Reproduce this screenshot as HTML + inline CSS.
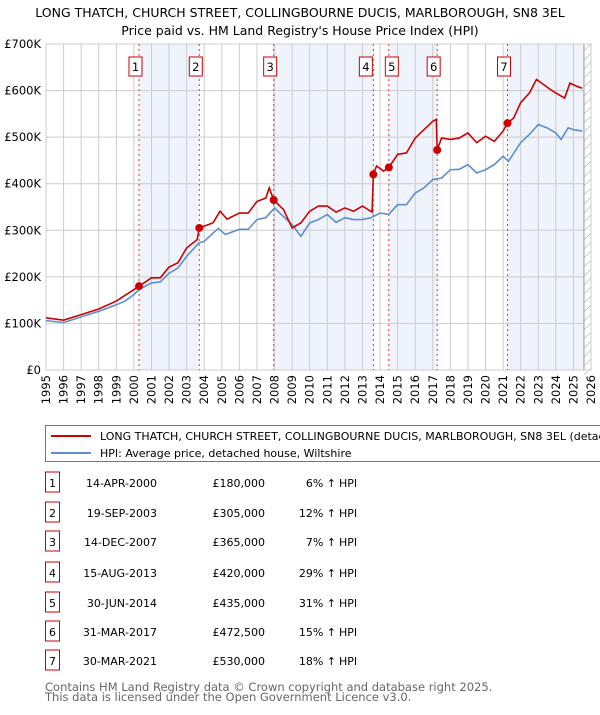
<!DOCTYPE html>
<html><head><meta charset="utf-8"><style>
body{margin:0;background:#fff;font-family:"Liberation Sans","DejaVu Sans",sans-serif}
svg text{font-family:"DejaVu Sans","Liberation Sans",sans-serif}
</style></head><body>
<svg id="s" width="600" height="710" xmlns="http://www.w3.org/2000/svg">
<text x="300" y="17" text-anchor="middle" font-size="12.5" fill="#000">LONG THATCH, CHURCH STREET, COLLINGBOURNE DUCIS, MARLBOROUGH, SN8 3EL</text>
<text x="300" y="35" text-anchor="middle" font-size="12.5" fill="#000">Price paid vs. HM Land Registry's House Price Index (HPI)</text>
<g id="plot"></g>
<g>
<rect x="45.5" y="425.5" width="560" height="36" fill="#fff" stroke="#777"/>
<line x1="51" y1="436" x2="91" y2="436" stroke="#cc0000" stroke-width="2"/>
<text x="100" y="440" font-size="11">LONG THATCH, CHURCH STREET, COLLINGBOURNE DUCIS, MARLBOROUGH, SN8 3EL (detached house)</text>
<line x1="51" y1="453" x2="91" y2="453" stroke="#5b8fd0" stroke-width="2"/>
<text x="100" y="457" font-size="11">HPI: Average price, detached house, Wiltshire</text>
</g>
<g id="tbl"></g>
<text x="45" y="691" font-size="11.5" fill="#666">Contains HM Land Registry data © Crown copyright and database right 2025.</text>
<text x="45" y="701" font-size="11.5" fill="#666">This data is licensed under the Open Government Licence v3.0.</text>
</svg>
<script>
const years=[1995,1996,1996.5,1997,1998,1999,1999.5,2000,2000.3,2001,2001.5,2002,2002.5,2003,2003.7,2004,2004.5,2004.8,2005.2,2006,2006.5,2007,2007.5,2008,2008.3,2009,2009.5,2010,2010.5,2011,2011.5,2012,2012.5,2013,2013.5,2014,2014.5,2015,2015.5,2016,2016.5,2017,2017.5,2018,2018.5,2019,2019.5,2020,2020.5,2021,2021.3,2022,2022.5,2023,2023.5,2024,2024.3,2024.7,2025,2025.5];
const hpi=[106,102,108,114,126,140,148,162,173,187,189,208,219,244,273,276,294,304,291,302,302,323,327,348,337,312,287,316,323,334,317,327,323,323,327,337,334,355,355,380,391,409,412,430,431,441,423,430,441,459,448,488,506,527,520,509,495,520,516,513];
const redYears=[1995,1996,1997,1998,1999,2000.3,2001,2001.5,2002,2002.5,2003,2003.6,2003.72,2004.5,2004.9,2005.3,2006,2006.5,2007,2007.5,2007.7,2007.95,2008.5,2009,2009.5,2010,2010.5,2011,2011.5,2012,2012.5,2013,2013.55,2013.62,2013.8,2014.2,2014.5,2015,2015.5,2016,2016.5,2017,2017.2,2017.25,2017.5,2018,2018.5,2019,2019.5,2020,2020.5,2021,2021.25,2021.6,2022,2022.5,2022.9,2023.3,2023.7,2024,2024.5,2024.8,2025.2,2025.5];
const red=[112,107,119,131,148,180,198,198,221,230,262,280,305,316,341,324,337,337,362,369,391,365,345,305,316,341,352,352,339,348,341,352,339,420,438,427,435,463,466,498,516,534,538,472.5,498,495,498,509,488,502,491,513,530,541,574,595,624,613,602,595,584,616,609,605];
const saleYears=[2000.29,2003.72,2007.95,2013.62,2014.5,2017.25,2021.25];
const salePrices=[180,305,365,420,435,472.5,530];
const saleDates=["14-APR-2000","19-SEP-2003","14-DEC-2007","15-AUG-2013","30-JUN-2014","31-MAR-2017","30-MAR-2021"];
const salePriceText=["£180,000","£305,000","£365,000","£420,000","£435,000","£472,500","£530,000"];
const salePct=["6%","12%","7%","29%","31%","15%","18%"];
const yTicks=[0,100,200,300,400,500,600,700];
const yTickLabels=["£0","£100K","£200K","£300K","£400K","£500K","£600K","£700K"];

const NS="http://www.w3.org/2000/svg";
const X0=46,X1=591,Y0=370,Y1=44;
const xs=y=>X0+(y-1995)*(X1-X0)/31;
const ys=v=>Y0-v*(Y0-Y1)/700;
function mk(p,t,a){const e=document.createElementNS(NS,t);for(const k in a)e.setAttribute(k,a[k]);p.appendChild(e);return e;}
const plot=document.getElementById('plot');
// shaded bands
const bands=[[0,1],[2,3],[4,5],[6,-1]];
bands.forEach((b,i)=>{const a=xs(saleYears[b[0]]);const e=b[1]<0?xs(2026):xs(saleYears[b[1]]);
const r=mk(plot,'rect',{x:a,y:Y1,width:e-a,height:Y0-Y1,fill:'#eef3fc'});

});
// grid
for(let y=1995;y<=2026;y++){const l=mk(plot,'line',{x1:xs(y),x2:xs(y),y1:Y1,y2:Y0,stroke:'#ccc','stroke-width':1});


const t=mk(plot,'text',{transform:`translate(${xs(y)+4},${Y0+5}) rotate(-90)`,'text-anchor':'end','font-size':11.5});
t.textContent=y;

}
yTicks.forEach((v,i)=>{const l=mk(plot,'line',{x1:X0,x2:X1,y1:ys(v),y2:ys(v),stroke:'#ccc','stroke-width':1});


const t=mk(plot,'text',{x:X0-5,y:ys(v)+4,'text-anchor':'end','font-size':11.5});
t.textContent=yTickLabels[i];

});
// hatch future
const hx=xs(2025.6);
const hr=mk(plot,'rect',{x:hx,y:Y1,width:X1-hx,height:Y0-Y1,fill:'#fff'});


for(let yy=Y1;yy<Y0;yy+=9){mk(plot,'line',{x1:hx,y1:yy+7,x2:X1,y2:yy,stroke:'#bbb','stroke-width':0.7});}
mk(plot,'line',{x1:hx,x2:hx,y1:Y1,y2:Y0,stroke:'#999'});
mk(plot,'rect',{x:X0,y:Y1,width:X1-X0,height:Y0-Y1,fill:'none',stroke:'#ccc'});
// sale vertical lines and labels
saleYears.forEach((sy,i)=>{const x=xs(sy);
const l=mk(plot,'line',{x1:x,x2:x,y1:Y1,y2:Y0,stroke:'#e33','stroke-width':1,'stroke-dasharray':'2,3'});


let bx=x-10; if(i===3)bx=x-14; if(i===4)bx=x-3.5;
const r=mk(plot,'rect',{x:bx,y:57,width:13,height:19,fill:'#fff',stroke:'#cc0000'});


const t=mk(plot,'text',{x:bx+6.5,y:71,'text-anchor':'middle','font-size':11.5});
t.textContent=i+1;

});
// lines
const hp=mk(plot,'polyline',{points:years.map((y,i)=>xs(y)+','+ys(hpi[i])).join(' '),fill:'none',stroke:'#5b8fd0','stroke-width':1.6});


const rp=mk(plot,'polyline',{points:redYears.map((y,i)=>xs(y)+','+ys(red[i])).join(' '),fill:'none',stroke:'#cc0000','stroke-width':1.6});


saleYears.forEach((sy,i)=>{const c=mk(plot,'circle',{cx:xs(sy),cy:ys(salePrices[i]),r:4,fill:'#cc0000'});

});
// table
const tbl=document.getElementById('tbl');
const rowsY=[483,513,542,573,603,632,661];
saleDates.forEach((d,i)=>{const y=rowsY[i];
const r=mk(tbl,'rect',{x:45.5,y:y-11,width:14,height:20,fill:'#fff',stroke:'#cc0000'});


const texts=[[52.5,String(i+1),'middle','table-sale-number'],[157,d,'end','table-sale-date'],[265,salePriceText[i],'end','table-sale-price'],[336,salePct[i]+' \u2191','end','table-hpi-diff'],[339,'HPI','start','table-hpi-label']];
texts.forEach(tt=>{const t=mk(tbl,'text',{x:tt[0],y:y+4,'text-anchor':tt[2],'font-size':11});
t.textContent=tt[1];

});});
</script>
</body></html>
